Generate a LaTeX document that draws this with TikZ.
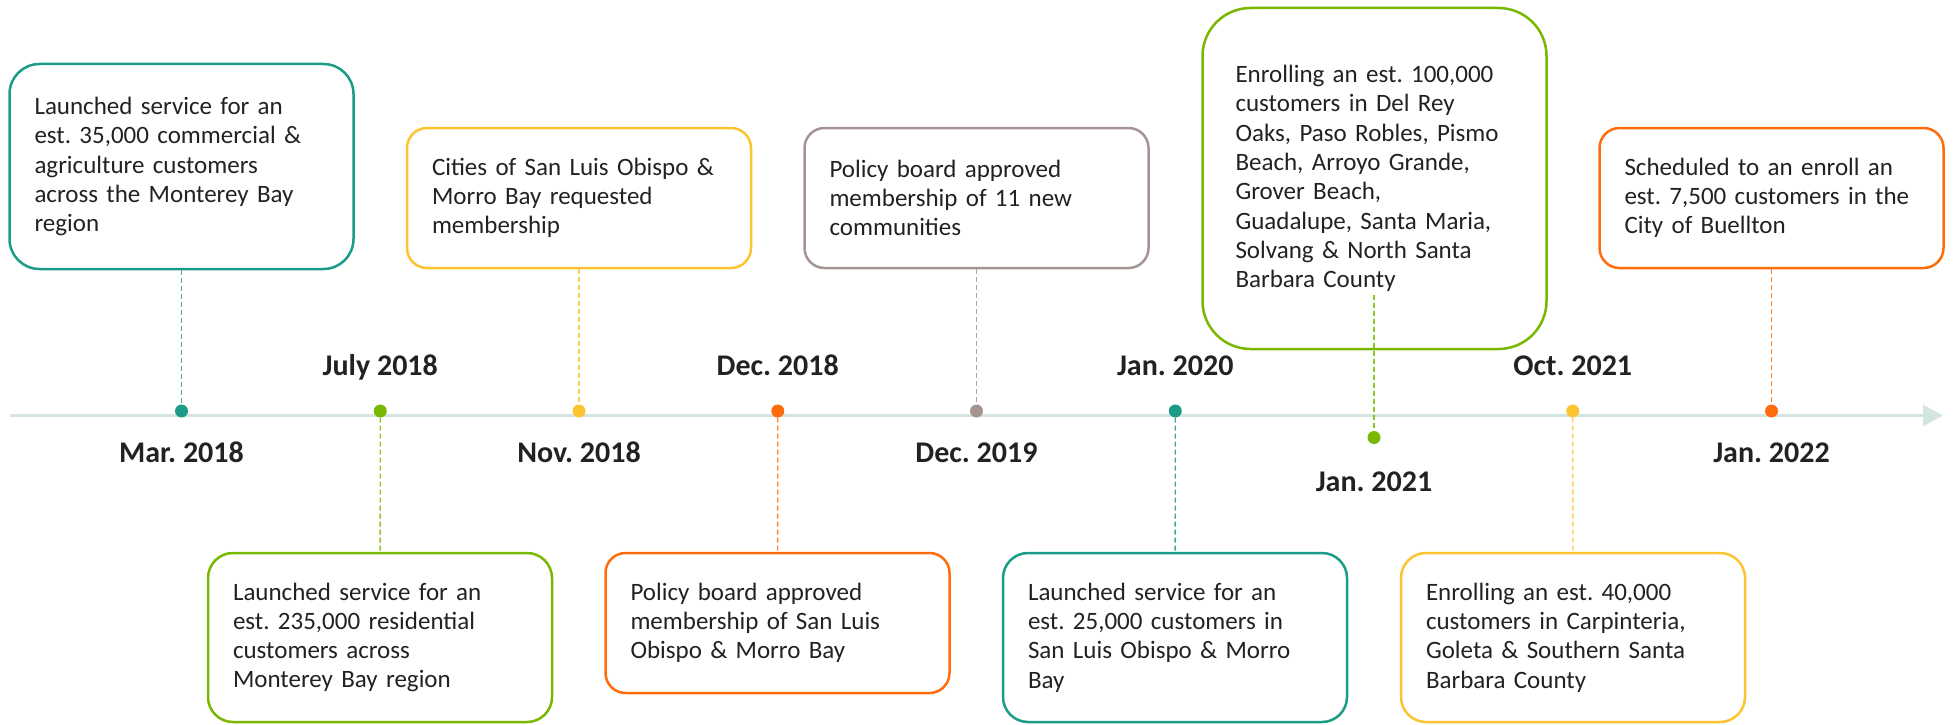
\documentclass[tikz,border=0pt]{standalone}
\usepackage{fontspec}
\setmainfont{Carlito}
\usetikzlibrary{arrows.meta}
\frenchspacing

\definecolor{cteal}{HTML}{1A9C86}
\definecolor{cgreen}{HTML}{78B800}
\definecolor{cyellow}{HTML}{FCC431}
\definecolor{corange}{HTML}{FF6C0C}
\definecolor{cgrey}{HTML}{A49592}
\definecolor{axisline}{HTML}{D4E5DF}
\definecolor{txt}{HTML}{222222}

\tikzset{
    axis/.style={draw=axisline, line width=2.5pt, -{Triangle[length=20pt, width=21pt]}},
    dot/.style={circle, fill=#1, inner sep=0pt, minimum size=13pt},
    card/.style={draw=#1, line width=2.5pt, fill=white, text=txt, align=left,
        text width=294pt, inner xsep=25pt, minimum height=140pt, rounded corners=20pt,
        font=\fontsize{25}{29.3}\selectfont},
    link/.style={draw=#1!85, line width=1.3pt, dash pattern=on 5pt off 3pt},
    datum/.style={anchor=base, text=txt, font=\fontsize{30}{36}\selectfont\bfseries},
}

\begin{document}
\begin{tikzpicture}[x=1pt, y=1pt]
    \useasboundingbox (0,0) rectangle (1953,-725);

    %Zeitachse
    \coordinate (start) at (10,-415.5);
    \coordinate (end) at (1943,-415.5);
    \draw[axis] (start) -- (end);

    %Punkte
    \foreach[count=\i] \c/\y in {cteal/411, cgreen/411, cyellow/411, corange/411, cgrey/411,
                                 cteal/411, cgreen/437.5, cyellow/411, corange/411} {
        \node[dot=\c] (d\i) at ({181.5+198.75*(\i-1)},-\y) {};
    }

    %Kaesten oben
    \node[card=cteal, minimum height=205pt, rounded corners=30pt] (b1) at (181.5,-166.5)
        {Launched service for an\\ est. 35,000 commercial \&\\ agriculture customers\\ across the Monterey Bay\\ region};
    \node[card=cyellow] (b3) at (579,-198)
        {Cities of San Luis Obispo \&\\ Morro Bay requested\\ membership};
    \node[card=cgrey] (b5) at (976.5,-198)
        {Policy board approved\\ membership of 11 new\\ communities};
    \node[card=cgreen, minimum height=341pt, rounded corners=48pt, text width=278pt, inner xsep=33pt] (b7) at (1374.5,-178.5)
        {Enrolling an est. 100,000\\ customers in Del Rey\\ Oaks, Paso Robles, Pismo\\ Beach, Arroyo Grande,\\ Grover Beach,\\ Guadalupe, Santa Maria,\\ Solvang \& North Santa\\ Barbara County};
    \node[card=corange] (b9) at (1771.5,-198)
        {Scheduled to an enroll an\\ est. 7,500 customers in the\\ City of Buellton};

    %Kaesten unten
    \node[card=cgreen, minimum height=169pt, rounded corners=25pt] (b2) at (380,-637.5)
        {Launched service for an\\ est. 235,000 residential\\ customers across\\ Monterey Bay region};
    \node[card=corange] (b4) at (777.5,-623)
        {Policy board approved\\ membership of San Luis\\ Obispo \& Morro Bay};
    \node[card=cteal, minimum height=169pt, rounded corners=25pt] (b6) at (1175,-637.5)
        {Launched service for an\\ est. 25,000 customers in\\ San Luis Obispo \& Morro\\ Bay};
    \node[card=cyellow, minimum height=169pt, rounded corners=25pt] (b8) at (1573,-637.5)
        {Enrolling an est. 40,000\\ customers in Carpinteria,\\ Goleta \& Southern Santa\\ Barbara County};

    %Verbindungen
    \coordinate (b7tail) at (1374,-295);
    \draw[link=cteal] (b1) -- (d1);
    \draw[link=cgreen] (d2) -- (b2);
    \draw[link=cyellow] (b3) -- (d3);
    \draw[link=corange] (d4) -- (b4);
    \draw[link=cgrey] (b5) -- (d5);
    \draw[link=cteal] (d6) -- (b6);
    \draw[link=cgreen] (b7tail) -- (d7);
    \draw[link=cyellow] (d8) -- (b8);
    \draw[link=corange] (b9) -- (d9);

    %Datum
    \foreach \i/\t/\y in {1/Mar. 2018/462.5, 2/July 2018/375, 3/Nov. 2018/462.5,
                          4/Dec. 2018/375, 5/Dec. 2019/462.5, 6/Jan. 2020/375,
                          7/Jan. 2021/491, 8/Oct. 2021/375, 9/Jan. 2022/462.5} {
        \node[datum] (t\i) at (d\i |- 0,-\y) {\t};
    }
\end{tikzpicture}
\end{document}
